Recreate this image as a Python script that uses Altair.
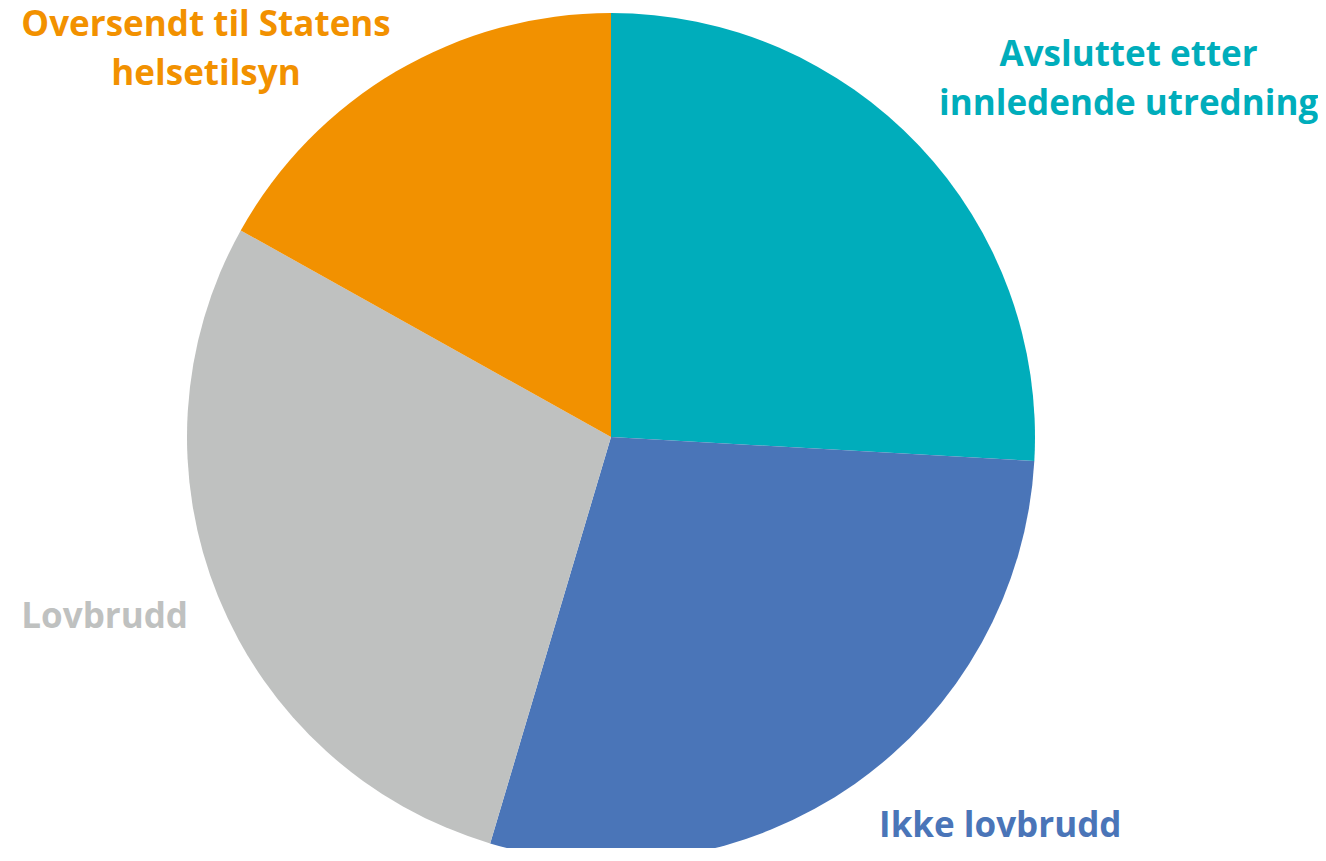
import altair as alt
import pandas as pd

categories = ["Avsluttet etter innledende utredning", "Ikke lovbrudd", "Lovbrudd", "Oversendt til Statens helsetilsyn"]
values = [25.9, 28.7, 28.5, 16.9]
order = [1, 2, 3, 4]
label_lines = [["Avsluttet etter", "innledende utredning"], ["Ikke lovbrudd"], ["Lovbrudd"], ["Oversendt til Statens", "helsetilsyn"]]
colors = ["#00ADBB", "#4A75B8", "#BFC1C0", "#F29100"]

df = pd.DataFrame({"kategori": categories, "verdi": values, "rekke": order, "etikett": label_lines})

CX, CY = 603, 429
R = 424

base = alt.Chart(df).encode(
    theta=alt.Theta("verdi:Q", stack=True),
    order=alt.Order("rekke:O"),
    x=alt.value(CX),
    y=alt.value(CY),
)

color_scale = alt.Scale(domain=categories, range=colors)

pie = base.mark_arc(radius=R).encode(
    color=alt.Color("kategori:N", scale=color_scale, legend=None)
)

offsets = {
    categories[0]: (176, -48),
    categories[1]: (119, 15),
    categories[2]: (-71, 14),
    categories[3]: (-167, 4),
}

layers = [pie]
for i, cat in enumerate(categories):
    dx, dy = offsets[cat]
    layers.append(
        base.transform_calculate(
            lbl=f"datum.kategori == '{cat}' ? datum.etikett : ''"
        ).mark_text(
            radius=470, dx=dx, dy=dy, font="Open Sans", fontWeight="bold",
            fontSize=35, lineHeight=49, align="center", baseline="alphabetic",
            color=colors[i],
        ).encode(
            text="lbl:N",
        )
    )

chart = alt.layer(*layers).properties(
    width=1310, height=840, padding=0,
    autosize=alt.AutoSizeParams(type="none"),
).configure_view(stroke=None)

chart.save("out.html", embed_options={"renderer": "svg", "actions": False})
